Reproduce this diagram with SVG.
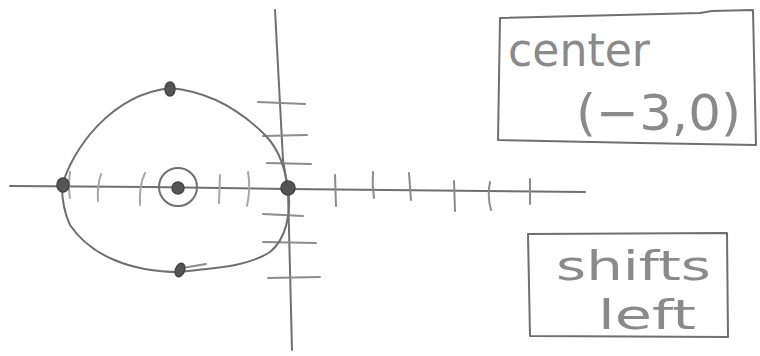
<svg xmlns="http://www.w3.org/2000/svg" width="760" height="356" viewBox="0 0 760 356">
<style>
.p{fill:none;stroke:#6f6f6f;stroke-width:2;stroke-linecap:round;stroke-linejoin:round}
.t{fill:none;stroke:#8c8c8c;stroke-width:2;stroke-linecap:round}
.f{fill:none;stroke:#a6a6a6;stroke-width:2;stroke-linecap:round}
.d{fill:#555;stroke:#444;stroke-width:1.5}
.tx{font-family:"DejaVu Sans","Liberation Sans",sans-serif;fill:#8a8a8a;font-weight:normal}
</style>
<rect width="760" height="356" fill="#fff"/>
<g id="axes">
<path class="p" d="M10,186 L150,187 L288,189 L585,192"/>
<path class="p" d="M275,10 L283,160 L288,190 L292,350"/>
</g>
<g id="y-ticks">
<path class="t" d="M258,102 L305,104"/>
<path class="t" d="M263,136 L307,135"/>
<path class="t" d="M267,163 L311,164"/>
<path class="t" d="M263,214 L303,216"/>
<path class="t" d="M263,242 L316,243"/>
<path class="t" d="M268,278 L320,277"/>
</g>
<g id="x-ticks">
<path class="f" d="M70,172 Q68,186 70,198"/>
<path class="f" d="M101,174 Q97,187 98,201"/>
<path class="f" d="M145,173 Q139,185 140,205"/>
<path class="f" d="M220,175 L219,203"/>
<path class="f" d="M248,172 Q251,188 247,206"/>
<path class="t" d="M335,175 L336,206"/>
<path class="t" d="M373,172 Q372,185 374,198"/>
<path class="t" d="M409,173 L411,200"/>
<path class="t" d="M454,181 L455,211"/>
<path class="t" d="M490,182 Q487,195 491,210"/>
<path class="t" d="M530,179 L530,204"/>
</g>
<g id="curve">
<path class="p" d="M62,186 C72,150 110,95 170,88 C215,92 245,115 265,135 C280,150 285,170 288,188 C292,215 285,240 270,252 C245,268 210,268 180,272 C130,272 90,255 70,225 C63,210 62,195 62,186"/>
<path class="t" d="M182,268 L206,264"/>
</g>
<g id="points">
<ellipse class="d" cx="63" cy="185" rx="6" ry="7"/>
<ellipse class="d" cx="170" cy="89" rx="5" ry="7"/>
<ellipse class="d" cx="178" cy="188" rx="6" ry="6"/>
<ellipse class="p" cx="178" cy="187" rx="19" ry="19"/>
<ellipse class="d" cx="288" cy="188" rx="7" ry="7"/>
<ellipse class="d" cx="180" cy="270" rx="4.5" ry="7" transform="rotate(20 180 270)"/>
</g>
<g id="box-center">
<path class="p" d="M500,18 L700,13 L712,11 L753,10 L756,145 L640,143 L498,140 Z"/>
<text class="tx" x="508" y="66" font-size="46" textLength="142" lengthAdjust="spacingAndGlyphs">center</text>
<text class="tx" x="576" y="130" font-size="50" textLength="165" lengthAdjust="spacingAndGlyphs">(−3,0)</text>
</g>
<g id="box-shifts">
<path class="p" d="M528,234 L727,233 L728,337 L530,336 Z"/>
<text class="tx" x="556" y="280" font-size="40" textLength="155" lengthAdjust="spacingAndGlyphs">shifts</text>
<text class="tx" x="598" y="329" font-size="40" textLength="98" lengthAdjust="spacingAndGlyphs">left</text>
</g>
</svg>
